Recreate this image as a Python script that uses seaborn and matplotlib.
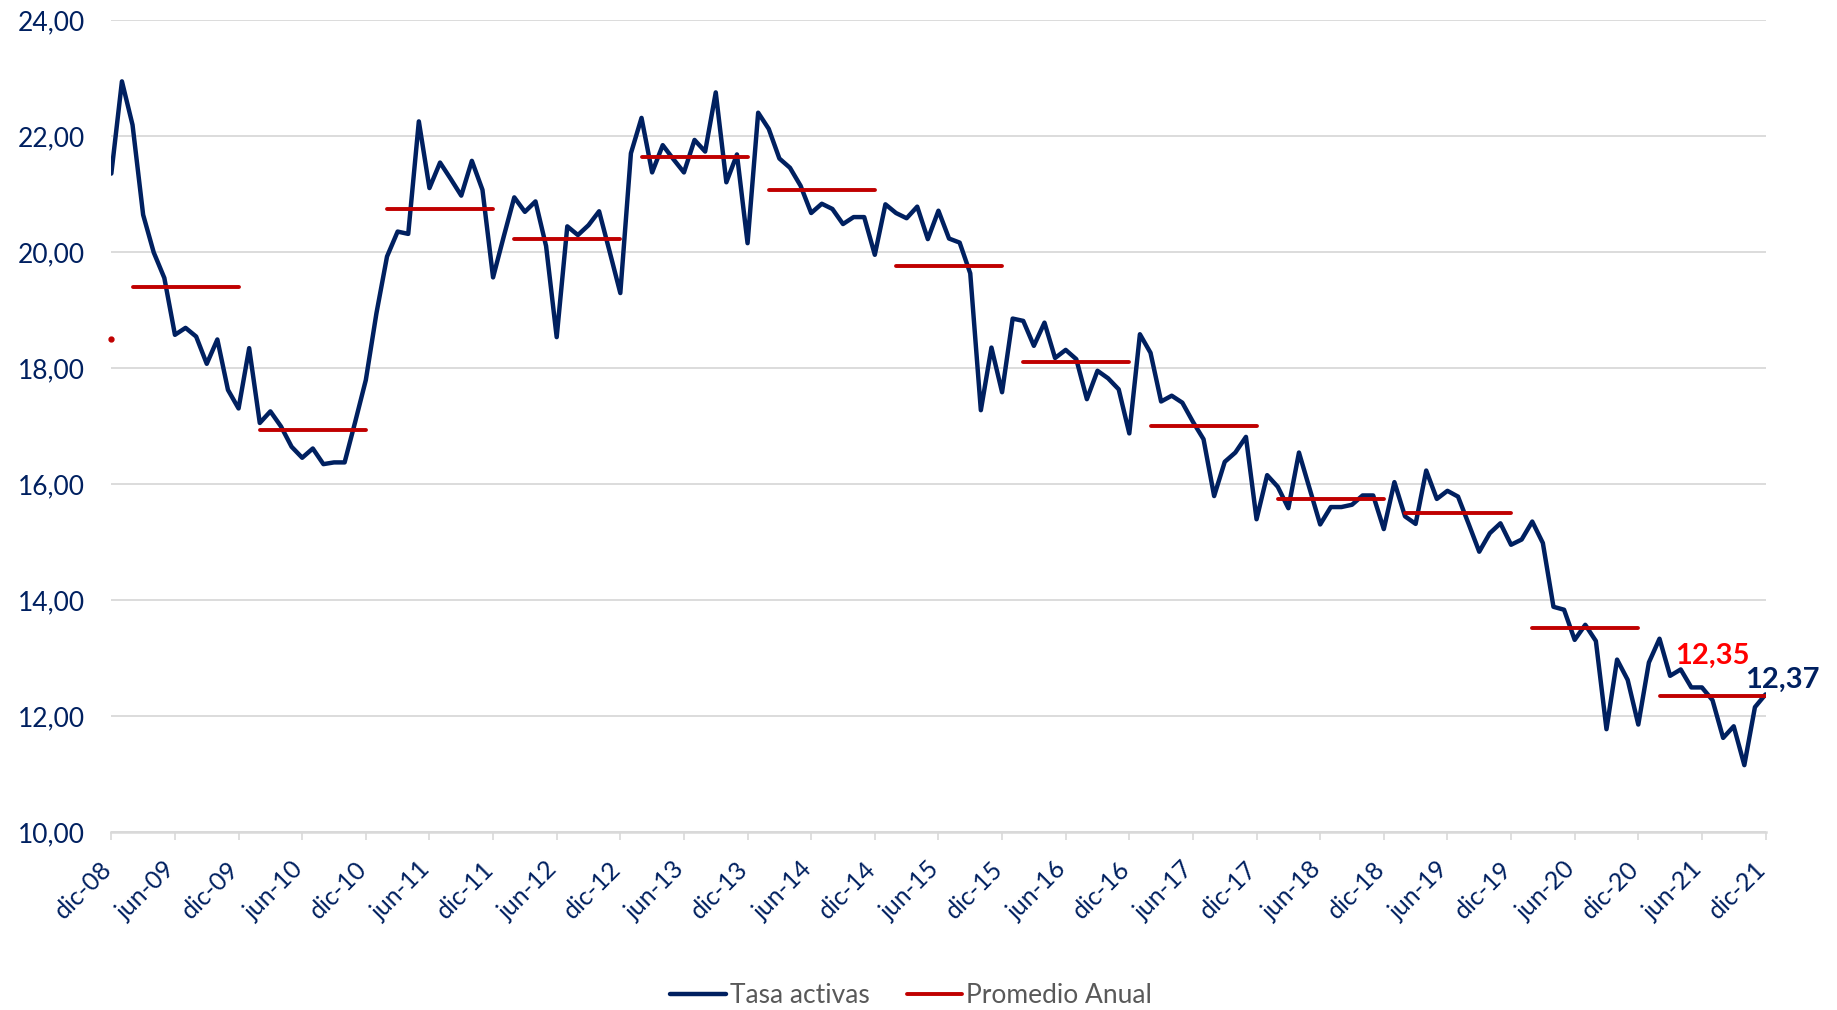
import pandas as pd
import matplotlib
matplotlib.use("Agg")
import matplotlib.pyplot as plt
import matplotlib.transforms as mtransforms
import seaborn as sns

sns.set_style("white")
plt.rcParams['font.family'] = ['Lato', 'DejaVu Sans']

# tasa activa mensual, dic-08 .. dic-21
tasa = [21.35, 22.94, 22.19, 20.64, 19.99, 19.55, 18.57, 18.69, 18.54, 18.07, 18.49, 17.62, 17.30,
        18.34, 17.05, 17.25, 16.99, 16.64, 16.45, 16.61, 16.34, 16.37, 16.37, 17.07, 17.79,
        18.94, 19.92, 20.35, 20.31, 22.25, 21.10, 21.54, 21.26, 20.97, 21.57, 21.07, 19.56,
        20.26, 20.94, 20.69, 20.87, 20.10, 18.53, 20.44, 20.29, 20.46, 20.70, 20.00, 19.29,
        21.70, 22.31, 21.37, 21.84, 21.60, 21.37, 21.93, 21.73, 22.75, 21.20, 21.68, 20.15,
        22.40, 22.12, 21.61, 21.45, 21.14, 20.67, 20.83, 20.74, 20.48, 20.60, 20.60, 19.95,
        20.82, 20.67, 20.58, 20.78, 20.22, 20.71, 20.23, 20.16, 19.63, 17.27, 18.35, 17.58,
        18.85, 18.81, 18.38, 18.78, 18.17, 18.31, 18.15, 17.46, 17.95, 17.82, 17.63, 16.87,
        18.58, 18.26, 17.42, 17.52, 17.40, 17.07, 16.77, 15.79, 16.38, 16.54, 16.81, 15.39,
        16.15, 15.95, 15.58, 16.54, 15.92, 15.30, 15.60, 15.60, 15.64, 15.80, 15.80, 15.22,
        16.03, 15.44, 15.31, 16.23, 15.74, 15.88, 15.78, 15.31, 14.83, 15.15, 15.32, 14.95,
        15.04, 15.35, 14.98, 13.88, 13.83, 13.31, 13.57, 13.29, 11.77, 12.97, 12.62, 11.85,
        12.92, 13.33, 12.69, 12.80, 12.49, 12.49, 12.27, 11.62, 11.82, 11.15, 12.15, 12.37]

# promedio anual 2008 .. 2021
anios = list(range(2008, 2022))
promedio = [18.49, 19.40, 16.93, 20.74, 20.23, 21.64, 21.06, 19.76, 18.10, 17.00, 15.74, 15.50, 13.51, 12.35]

etiquetas = ["dic-08", "jun-09", "dic-09", "jun-10", "dic-10", "jun-11", "dic-11", "jun-12", "dic-12",
             "jun-13", "dic-13", "jun-14", "dic-14", "jun-15", "dic-15", "jun-16", "dic-16", "jun-17",
             "dic-17", "jun-18", "dic-18", "jun-19", "dic-19", "jun-20", "dic-20", "jun-21", "dic-21"]

AZUL = "#002060"
ROJO = "#C00000"

df = pd.DataFrame({"mes": range(len(tasa)), "tasa": tasa})

# promedio: de febrero a diciembre de cada año (enero vacio, por eso el corte)
rows = []
for anio, valor in zip(anios, promedio):
    fin = (anio - 2008) * 12
    for mes in range(fin - 10, fin + 1):
        rows.append({"anio": anio, "mes": mes, "promedio": valor})
df_prom = pd.DataFrame(rows)

fig, ax = plt.subplots(figsize=(18.37, 10.10), dpi=100)
plt.subplots_adjust(left=0.0606, right=0.9611, top=0.9803, bottom=0.1764)

sns.lineplot(ax=ax, data=df, x="mes", y="tasa", color=AZUL, lw=3.2,
             solid_joinstyle="round", label="Tasa activas", zorder=3)
sns.lineplot(ax=ax, data=df_prom, x="mes", y="promedio", units="anio", estimator=None,
             color=ROJO, lw=2.8, solid_capstyle="round", label="Promedio Anual", zorder=4)
# dic-08: solo se ve la punta del promedio 2008
ax.plot(0, promedio[0], "o", color=ROJO, ms=3.5, zorder=4, clip_on=False)

ax.set_xlim(0, len(tasa) - 1)
ax.set_ylim(10, 24)
ax.set_yticks(range(10, 25, 2))
ax.set_yticklabels(["{:.2f}".format(v).replace(".", ",") for v in range(10, 25, 2)])
ax.set_xticks(range(0, len(tasa), 6))
ax.set_xticklabels(etiquetas, rotation=45, ha="right")
ax.set_xlabel("")
ax.set_ylabel("")

ax.yaxis.grid(True, color="#D9D9D9", lw=1.3)
ax.set_axisbelow(True)
for s in ["top", "right", "left"]:
    ax.spines[s].set_visible(False)
ax.spines["bottom"].set_color("#D9D9D9")
ax.spines["bottom"].set_linewidth(1.8)
ax.tick_params(axis="y", length=0, pad=19, labelsize=19, labelcolor=AZUL)
ax.tick_params(axis="x", bottom=True, length=6, width=1.2, color="#D9D9D9", direction="out",
               pad=12, labelsize=18, labelcolor=AZUL)

# correr un poco las etiquetas del eje x hacia la derecha
shift = mtransforms.ScaledTranslation(5 / 100, 0, fig.dpi_scale_trans)
for lab in ax.get_xticklabels():
    lab.set_transform(lab.get_transform() + shift)

ax.annotate("12,35", xy=(len(tasa) - 1, promedio[-1]), xytext=(-38.6, 28.5),
            textcoords="offset points", ha="center", va="center", fontsize=21,
            fontweight="bold", color="#FF0000")
ax.annotate("12,37", xy=(len(tasa) - 1, tasa[-1]), xytext=(11.8, 10.4),
            textcoords="offset points", ha="center", va="center", fontsize=21,
            fontweight="bold", color=AZUL)

h, l = ax.get_legend_handles_labels()
uniq = dict(zip(l, h))
ax.get_legend().remove()
leg = fig.legend(uniq.values(), uniq.keys(), loc="center", bbox_to_anchor=(0.496, 0.014), ncol=2,
                 frameon=False, fontsize=19, handlelength=2.1, handletextpad=0.15, columnspacing=1.4)
for t in leg.get_texts():
    t.set_color("#595959")

plt.savefig("out.png", dpi=100)
